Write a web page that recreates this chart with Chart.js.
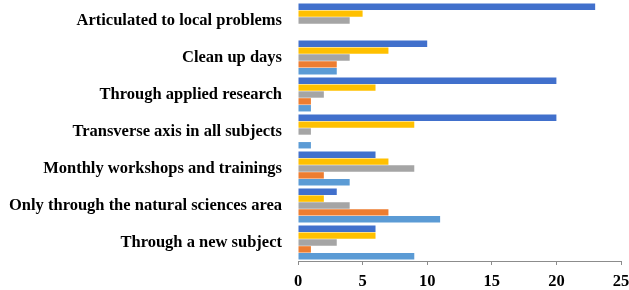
<!DOCTYPE html>
<html>
<head>
<meta charset="utf-8">
<script src="https://cdn.jsdelivr.net/npm/chart.js@4/dist/chart.umd.min.js"></script>
<style>
html,body{margin:0;padding:0;background:#fff;}
#wrap{width:629px;height:290px;}
</style>
</head>
<body>
<div id="wrap"><canvas id="c" width="629" height="290"></canvas></div>
<script>
const categories = [
  "Articulated to local problems",
  "Clean up days",
  "Through applied research",
  "Transverse axis in all subjects",
  "Monthly workshops and trainings",
  "Only through the natural sciences area",
  "Through a new subject"
];
// series listed top-to-bottom within each group
const seriesDarkBlue  = [23, 10, 20, 20, 6, 3, 6];
const seriesYellow    = [5, 7, 6, 9, 7, 2, 6];
const seriesGray      = [4, 4, 2, 1, 9, 4, 3];
const seriesOrange    = [0, 3, 1, 0, 2, 7, 1];
const seriesLightBlue = [0, 3, 1, 1, 4, 11, 9];
const xTicks = [0, 5, 10, 15, 20, 25];

const font = {family: "'Liberation Serif', 'Times New Roman', serif", weight: 'bold', size: 16.5};

new Chart(document.getElementById('c'), {
  type: 'bar',
  data: {
    labels: categories,
    datasets: [
      {label: 'S5', data: seriesDarkBlue,  backgroundColor: '#4170CC'},
      {label: 'S4', data: seriesYellow,    backgroundColor: '#FFC000'},
      {label: 'S3', data: seriesGray,      backgroundColor: '#A5A5A5'},
      {label: 'S2', data: seriesOrange,    backgroundColor: '#ED7D31'},
      {label: 'S1', data: seriesLightBlue, backgroundColor: '#5B9BD5'}
    ]
  },
  options: {
    indexAxis: 'y',
    responsive: false,
    animation: false,
    devicePixelRatio: 1,
    datasets: {bar: {categoryPercentage: 0.93, barPercentage: 0.93, borderWidth: 0}},
    layout: {padding: {top: 2, right: 0, left: 0, bottom: 0}},
    plugins: {legend: {display: false}, tooltip: {enabled: false}},
    scales: {
      x: {
        min: 0, max: 25,
        afterBuildTicks: (s) => { s.ticks = xTicks.map(v => ({value: v})); },
        grid: {drawOnChartArea: false, drawTicks: true, tickLength: 4, color: '#8c8c8c'},
        border: {display: true, color: '#8c8c8c', width: 1},
        ticks: {color: '#000', font: font, padding: 7, maxRotation: 0},
        afterFit: (s) => { s.height = 29; s.paddingLeft = 0; s.paddingRight = 8; }
      },
      y: {
        grid: {display: false, drawTicks: false},
        border: {display: false},
        ticks: {color: '#000', font: font, padding: 16, autoSkip: false},
        afterFit: (s) => { s.width = 298; s.paddingTop = 0; s.paddingBottom = 0; }
      }
    }
  }
});
</script>
</body>
</html>
